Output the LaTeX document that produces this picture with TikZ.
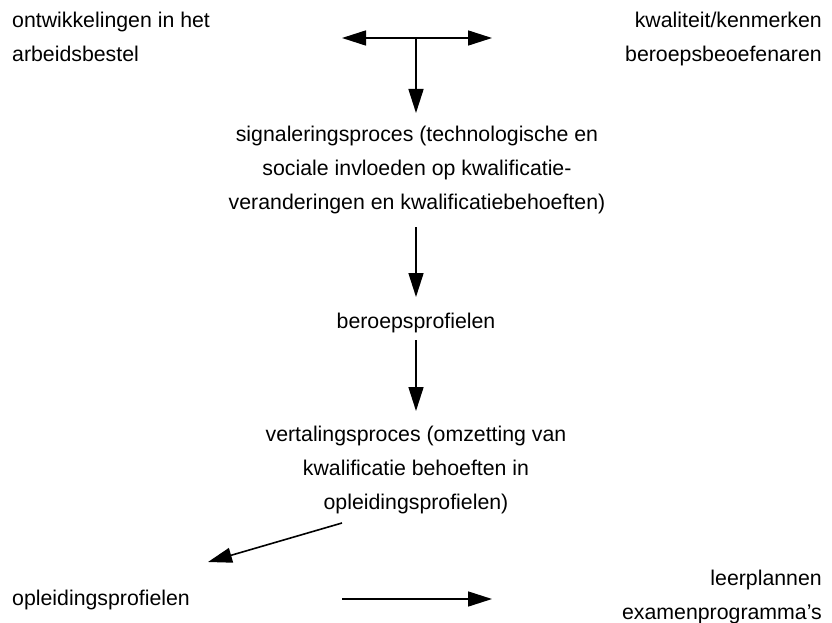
\documentclass[tikz,border=0pt]{standalone}
\usepackage{fontspec}
\setmainfont{Liberation Sans}
\usetikzlibrary{arrows.meta}
\begin{document}
\begin{tikzpicture}[x=1pt,y=-1pt,
  lbl/.style={inner sep=0pt,font=\fontsize{21.3}{34}\selectfont,anchor=base},
  conn/.style={line width=1.6pt,-{Triangle[length=24pt,width=15pt]}},
  both/.style={line width=1.6pt,{Triangle[length=24pt,width=15pt]}-{Triangle[length=24pt,width=15pt]}}]
\useasboundingbox (0,0) rectangle (832,623);
\fill[white] (0,0) rectangle (832,623);

% text blocks (multi-line nodes are placed by the baseline of their last line)
\node[lbl,anchor=base west,align=left] (arb) at (12,62) {ontwikkelingen in het\\arbeidsbestel};
\node[lbl,anchor=base east,align=right] (kwal) at (822,62) {kwaliteit/kenmerken\\beroepsbeoefenaren};
\node[lbl,align=center] (sig) at (417,209) {signaleringsproces (technologische en\\sociale invloeden op kwalificatie-\\veranderingen en kwalificatiebehoeften)};
\node[lbl] (ber) at (416,328) {beroepsprofielen};
\node[lbl,align=center] (ver) at (416,509) {vertalingsproces (omzetting van\\kwalificatie behoeften in\\opleidingsprofielen)};
\node[lbl,anchor=base west] (opl) at (12,605) {opleidingsprofielen};
\node[lbl,anchor=base east,align=right] (leer) at (822,619) {leerplannen\\examenprogramma's};

% connector end points
\coordinate (tl) at (342,38);
\coordinate (tr) at (492,38);
\coordinate (tj) at (416,38);
\coordinate (tb) at (416,113);
\coordinate (s1) at (416,227);
\coordinate (s2) at (416,297);
\coordinate (b1) at (416,340);
\coordinate (b2) at (416,411);
\coordinate (v1) at (342,523);
\coordinate (v2) at (208,562);
\coordinate (o1) at (342,599);
\coordinate (o2) at (492,599);

% connectors
\draw[both] (tl) -- (tr);
\draw[conn] (tj) -- (tb);
\draw[conn] (s1) -- (s2);
\draw[conn] (b1) -- (b2);
\draw[conn] (v1) -- (v2);
\draw[conn] (o1) -- (o2);
\end{tikzpicture}
\end{document}
